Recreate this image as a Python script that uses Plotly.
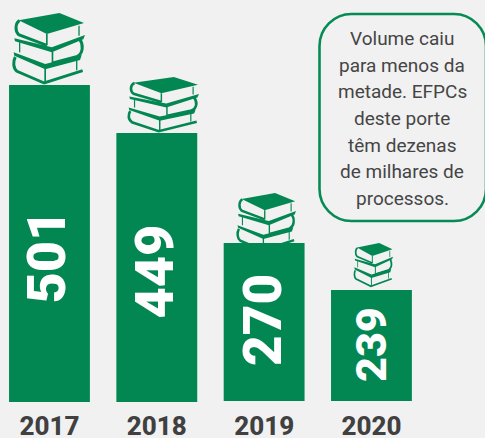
import plotly.graph_objects as go

W, H, PLOT_H = 485, 438, 402

years = ["2017", "2018", "2019", "2020"]
totals = [501, 449, 270, 239]
bar_heights = [317, 269, 158, 111]
bar_bases = [0, 0, 1, 1]
note_lines = ["Volume caiu", "para menos da", "metade. EFPCs", "deste porte",
              "têm dezenas", "de milhares de", "processos."]

GREEN = "#038752"
BG = "#f1f1f2"
DARK = "#404040"
FONT = "Roboto"

# label placement in pixels: centre x, centre y, font size
label_style = [(46, 256.5, 54), (154, 271.5, 54), (263, 320, 53), (371, 345, 43)]
# icon boxes in pixels: left, top, width, height
icon_boxes = [(13, 13, 72, 71), (128, 77, 71, 55), (237, 193, 59, 58), (354, 243, 39, 44)]
NOTE_X, NOTE_YS = 402, [38, 65, 91, 118, 145, 171, 198]


def px(x):
    return x / W


def py(y):
    return (PLOT_H - y) / PLOT_H


IX, IY, IW, IH = 38, 40, 217, 213
# Book-stack icon: (kind, width, commands) in icon units
icon = [
    ("fill", 0, [("M", 55, 62), ("L", 178, 40), ("L", 252, 70), ("L", 140, 103), ("Z",)]),
    ("line", 9, [("M", 58, 63), ("C", 44, 70, 44, 95, 55, 105), ("L", 140, 137)]),
    ("line", 5, [("M", 140, 103), ("L", 140, 137)]),
    ("line", 4, [("M", 237, 78), ("L", 237, 108)]),
    ("fill", 0, [("M", 42, 116), ("L", 155, 143), ("L", 255, 106), ("L", 250, 119), ("L", 155, 158), ("L", 44, 125), ("Z",)]),
    ("line", 4, [("M", 58, 128), ("L", 58, 158)]),
    ("line", 5, [("M", 157, 155), ("L", 157, 190)]),
    ("line", 9, [("M", 240, 120), ("C", 250, 135, 250, 160, 232, 170), ("L", 158, 190)]),
    ("fill", 0, [("M", 40, 158), ("L", 135, 193), ("L", 245, 166), ("L", 240, 181), ("L", 135, 209), ("L", 42, 168), ("Z",)]),
    ("line", 9, [("M", 45, 172), ("C", 38, 185, 38, 205, 50, 215), ("L", 132, 250), ("L", 248, 213)]),
    ("line", 5, [("M", 135, 205), ("L", 135, 250)]),
    ("line", 4, [("M", 230, 180), ("L", 230, 212)]),
]

shapes = []
for left, top, w, h in icon_boxes:
    sx, sy = w / IW, h / IH
    for kind, lw, cmds in icon:
        parts = []
        for c in cmds:
            if c[0] == "Z":
                parts.append("Z")
                continue
            pts = []
            for i in range(1, len(c), 2):
                pts.append(f"{px(left + (c[i] - IX) * sx):.5f},{py(top + (c[i + 1] - IY) * sy):.5f}")
            parts.append(c[0] + " ".join(pts))
        shapes.append(dict(
            type="path", xref="paper", yref="paper", layer="below", path=" ".join(parts),
            fillcolor=GREEN if kind == "fill" else "rgba(0,0,0,0)",
            line=dict(color=GREEN, width=lw * (sx + sy) / 2 if kind == "line" else 0),
        ))

# Rounded callout box
L, T, R, B, r = 319.5, 14, 486, 221, 32
shapes.append(dict(
    type="path", xref="paper", yref="paper", layer="above",
    path=(f"M{px(L + r)},{py(T)} L{px(R - r)},{py(T)} "
          f"C{px(R - r * .45)},{py(T)} {px(R)},{py(T + r * .45)} {px(R)},{py(T + r)} "
          f"L{px(R)},{py(B - r)} C{px(R)},{py(B - r * .45)} {px(R - r * .45)},{py(B)} {px(R - r)},{py(B)} "
          f"L{px(L + r)},{py(B)} C{px(L + r * .45)},{py(B)} {px(L)},{py(B - r * .45)} {px(L)},{py(B - r)} "
          f"L{px(L)},{py(T + r)} C{px(L)},{py(T + r * .45)} {px(L + r * .45)},{py(T)} {px(L + r)},{py(T)} Z"),
    line=dict(color="#078b55", width=2.6), fillcolor="rgba(0,0,0,0)",
))

annotations = []
for total, (x, y, size) in zip(totals, label_style):
    annotations.append(dict(
        xref="paper", yref="paper", x=px(x), y=py(y), text=str(total), textangle=-90,
        showarrow=False, xanchor="center", yanchor="middle",
        font=dict(family=FONT, size=size, color="white", weight=900),
    ))
for line, y in zip(note_lines, NOTE_YS):
    annotations.append(dict(
        xref="paper", yref="paper", x=px(NOTE_X), y=py(y), text=line,
        showarrow=False, xanchor="center", yanchor="middle",
        font=dict(family=FONT, size=19, color="#454545"),
    ))

fig = go.Figure(go.Bar(
    x=years, y=bar_heights, base=bar_bases, marker=dict(color=GREEN, line=dict(width=0)),
    hoverinfo="skip",
))
fig.update_layout(
    width=W, height=H, margin=dict(l=0, r=0, t=0, b=H - PLOT_H),
    paper_bgcolor=BG, plot_bgcolor="rgba(0,0,0,0)", bargap=0.2465, showlegend=False,
    shapes=shapes, annotations=annotations,
    xaxis=dict(type="category", range=[-0.461, 4.058], showgrid=False, zeroline=False,
               showline=False, ticks="outside", ticklen=1, tickcolor="rgba(0,0,0,0)", automargin=False,
               tickfont=dict(family=FONT, size=26, color=DARK, weight=800)),
    yaxis=dict(range=[0, PLOT_H], visible=False, automargin=False),
)
fig.write_html("out.html", config=dict(displayModeBar=False),
               post_script="document.body.style.margin='0';document.body.style.overflow='hidden';")
